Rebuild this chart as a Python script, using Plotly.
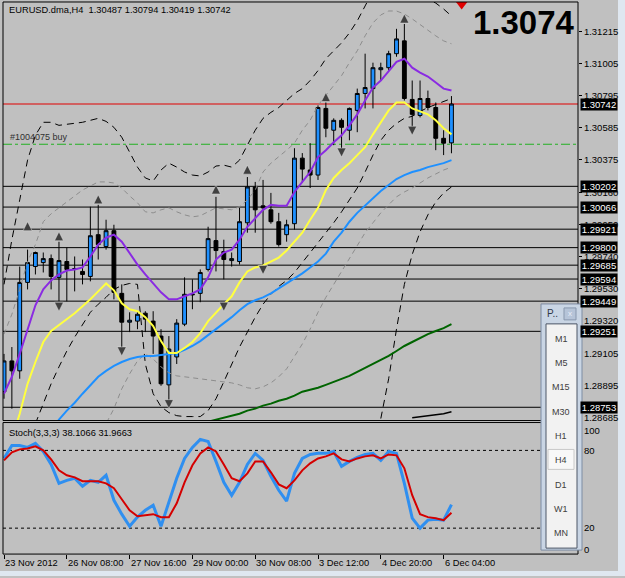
import plotly.graph_objects as go

W, H = 625, 578
def px(x): return x / W
def py(y): return 1 - y / H

# ---------------- data ----------------
bar_idx = list(range(58))
opens = [1.28855,1.29057,1.28992,1.29572,1.29676,1.29702,1.29728,1.29605,1.29709,1.29657,
         1.29644,1.29611,1.29885,1.29807,1.29911,1.29500,1.29311,1.29318,1.29370,1.29318,
         1.29220,1.28900,1.29083,1.29298,1.29490,1.29500,1.29657,1.29846,1.29774,1.29715,
         1.29709,1.29963,1.30198,1.30074,1.30048,1.29970,1.29885,1.29957,1.30387,1.30309,
         1.30276,1.30713,1.30570,1.30635,1.30570,1.30700,1.30811,1.30843,1.30967,1.30980,
         1.31072,1.31156,1.30772,1.30667,1.30778,1.30719,1.30517,1.30487]
highs = [1.29103,1.29148,1.29676,1.29787,1.29774,1.29768,1.29755,1.29839,1.29800,1.29742,
         1.29722,1.30068,1.30081,1.29983,1.29950,1.29559,1.29376,1.29383,1.29383,1.29383,
         1.29265,1.29220,1.29331,1.29605,1.29592,1.29657,1.29937,1.30133,1.29852,1.29768,
         1.30061,1.30263,1.30231,1.30244,1.30159,1.30028,1.29983,1.30452,1.30420,1.30485,
         1.30733,1.30752,1.30648,1.30648,1.30719,1.30843,1.31072,1.31013,1.31013,1.31091,
         1.31235,1.31267,1.30896,1.30896,1.30830,1.30752,1.30570,1.30794]
lows = [1.28809,1.28744,1.28940,1.29526,1.29624,1.29637,1.29526,1.29448,1.29448,1.29513,
        1.29559,1.29579,1.29722,1.29787,1.29461,1.29135,1.29246,1.29265,1.29246,1.29103,
        1.28894,1.28790,1.29037,1.29285,1.29396,1.29442,1.29644,1.29644,1.29592,1.29676,
        1.29689,1.29898,1.29898,1.29676,1.29957,1.29807,1.29839,1.29918,1.30224,1.30191,
        1.30244,1.30524,1.30472,1.30426,1.30504,1.30557,1.30713,1.30713,1.30896,1.30961,
        1.31052,1.30765,1.30583,1.30654,1.30700,1.30439,1.30407,1.30419]
closes = [1.29057,1.28992,1.29572,1.29702,1.29768,1.29728,1.29611,1.29715,1.29657,1.29663,
          1.29624,1.29878,1.29820,1.29911,1.29507,1.29311,1.29324,1.29363,1.29331,1.29220,
          1.28907,1.29135,1.29305,1.29494,1.29494,1.29637,1.29859,1.29781,1.29722,1.29728,
          1.29970,1.30198,1.30048,1.30061,1.29970,1.29820,1.29950,1.30387,1.30315,1.30276,
          1.30719,1.30583,1.30635,1.30589,1.30713,1.30811,1.30850,1.30980,1.30980,1.31072,
          1.31169,1.30778,1.30674,1.30778,1.30719,1.30517,1.30485,1.30742]

ma_purple = [1.28842,1.28953,1.29103,1.29266,1.29422,1.29526,1.29585,1.29624,1.29650,1.29657,
             1.29670,1.29742,1.29820,1.29865,1.29885,1.29839,1.29761,1.29689,1.29624,1.29565,
             1.29507,1.29461,1.29461,1.29481,1.29500,1.29526,1.29605,1.29722,1.29768,1.29787,
             1.29852,1.29937,1.29996,1.30048,1.30081,1.30074,1.30074,1.30165,1.30231,1.30296,
             1.30394,1.30439,1.30491,1.30537,1.30602,1.30674,1.30765,1.30850,1.30896,1.30961,
             1.31019,1.31039,1.30980,1.30948,1.30922,1.30883,1.30843,1.30830]
ma_yellow = [1.28353,1.28548,1.28711,1.28907,1.29050,1.29181,1.29253,1.29292,1.29331,1.29370,
             1.29416,1.29461,1.29513,1.29565,1.29520,1.29435,1.29396,1.29383,1.29344,1.29285,
             1.29187,1.29109,1.29109,1.29142,1.29181,1.29239,1.29318,1.29376,1.29429,1.29481,
             1.29572,1.29644,1.29670,1.29683,1.29709,1.29735,1.29781,1.29839,1.29898,1.29983,
             1.30061,1.30178,1.30257,1.30309,1.30354,1.30407,1.30459,1.30543,1.30622,1.30700,
             1.30752,1.30752,1.30713,1.30693,1.30674,1.30635,1.30583,1.30543]
ma_blue = [None,None,None,None,None,None,1.28600,1.28672,1.28731,1.28783,
           1.28842,1.28894,1.28953,1.28992,1.29024,1.29050,1.29070,1.29083,1.29090,1.29090,
           1.29096,1.29103,1.29109,1.29129,1.29155,1.29187,1.29226,1.29266,1.29305,1.29344,
           1.29389,1.29429,1.29455,1.29474,1.29500,1.29533,1.29565,1.29598,1.29631,1.29670,
           1.29709,1.29761,1.29839,1.29898,1.29970,1.30028,1.30074,1.30120,1.30172,1.30211,
           1.30250,1.30276,1.30296,1.30309,1.30328,1.30341,1.30354,1.30374]
ma_green = [None]*26 + [1.28659,1.28672,1.28685,1.28698,
            1.28711,1.28731,1.28744,1.28764,1.28777,1.28796,1.28809,1.28829,1.28855,1.28868,
            1.28881,1.28900,1.28920,1.28940,1.28959,1.28985,1.29011,1.29037,1.29063,1.29090,
            1.29122,1.29155,1.29181,1.29207,1.29233,1.29253,1.29272,1.29298]
ma_black = [None]*52 + [1.28685,1.28692,1.28698,1.28705,1.28711,1.28724]

band_upper_outer = [1.29559,1.29852,1.30113,1.30374,1.30537,1.30622,1.30622,1.30602,1.30609,1.30615,
                    1.30622,1.30635,1.30648,1.30628,1.30589,1.30524,1.30426,1.30328,1.30257,1.30237,
                    1.30309,1.30354,1.30328,1.30296,1.30276,1.30270,1.30296,1.30335,1.30341,1.30328,
                    1.30374,1.30472,1.30570,1.30648,1.30687,1.30719,1.30765,1.30811,1.30843,1.30896,
                    1.30961,1.31039,1.31091,1.31143,1.31208,1.31287,1.31385,1.31482,1.31548,1.31580,
                    1.31580,1.31548,1.31495,1.31456,1.31430,1.31404,1.31365,1.31319]
band_upper_inner = [1.29233,1.29363,1.29526,1.29709,1.29820,1.29970,1.30022,1.30061,1.30094,1.30139,
                    1.30178,1.30204,1.30231,1.30231,1.30224,1.30191,1.30139,1.30094,1.30035,1.30028,
                    1.30048,1.30061,1.30035,1.30015,1.30002,1.30009,1.30035,1.30061,1.30054,1.30048,
                    1.30068,1.30113,1.30178,1.30296,1.30354,1.30394,1.30439,1.30485,1.30570,1.30635,
                    1.30733,1.30798,1.30863,1.30928,1.31013,1.31091,1.31189,1.31274,1.31326,1.31352,
                    1.31352,1.31332,1.31300,1.31261,1.31222,1.31189,1.31156,1.31137]
band_lower_inner = [None]*12 + [1.28548,1.28646,1.28744,1.28874,1.28972,1.29057,1.29103,1.29070,
                    1.29018,1.28979,1.28959,1.28953,1.28946,1.28940,1.28933,1.28927,1.28920,1.28913,
                    1.28900,1.28881,1.28874,1.28887,1.28913,1.28953,1.29005,1.29083,1.29168,1.29266,
                    1.29376,1.29474,1.29559,1.29644,1.29735,1.29820,1.29898,1.29963,1.30028,1.30081,
                    1.30133,1.30165,1.30191,1.30224,1.30257,1.30283,1.30309,1.30328]
band_lower_outer = [None,None,None,None,1.28646,1.28777,1.28907,1.29018,1.29122,1.29213,
                    1.29298,1.29376,1.29429,1.29474,1.29526,1.29552,1.29565,1.29559,1.29037,1.28842,
                    1.28757,1.28718,1.28698,1.28692,1.28692,1.28692,1.28731,1.28809,1.28920,1.29037,
                    1.29148,1.29246,1.29344,1.29429,1.29494,1.29546,1.29585,1.29637,1.29702,1.29774,
                    1.29839,1.29898,1.29963,1.30035,1.30113,1.30191,1.30296,1.30407,1.30504,1.30570,
                    1.30615,1.30648,1.30661,1.30693,1.30719,1.30739,1.30759,1.30778]
band_lower_far = [None]*48 + [1.28679,1.28940,1.29266,1.29559,1.29755,1.29904,1.30015,1.30100,
                  1.30159,1.30198]

fractal_up_idx = [3, 7, 12, 27, 31, 41, 51]
fractal_up_price = [1.29970, 1.29904, 1.30146, 1.30211, 1.30341, 1.30817, 1.31332]
fractal_dn_idx = [7, 15, 21, 28, 33, 43, 52]
fractal_dn_price = [1.29383, 1.29090, 1.28744, 1.29383, 1.29624, 1.30394, 1.30537]

stoch_k = [73.8,83.8,83.8,82.3,85.4,79.2,69.2,54.6,56.9,58.5,
           52.3,56.9,55.4,60.8,41.5,30.8,21.5,28.5,33.8,37.7,
           21.5,39.2,58.5,73.8,82.3,88.5,86.9,71.5,55.4,45.4,
           55.4,69.2,77.7,72.3,60.0,49.2,40.8,62.3,73.8,76.9,
           77.7,77.7,79.2,67.7,71.5,74.6,76.9,77.7,72.3,79.2,
           77.7,54.6,27.7,20.0,26.2,26.9,26.2,38.1066]
stoch_d = [72.3,78.5,80.8,81.5,83.1,80.0,73.1,64.6,60.8,59.2,
           56.2,56.2,56.2,54.6,50.8,42.3,33.8,29.2,30.0,30.8,
           28.5,28.5,39.2,55.4,68.5,77.7,82.3,79.2,69.2,58.5,
           56.2,62.3,71.5,71.5,63.1,53.8,50.8,56.9,64.6,70.0,
           73.8,75.4,77.7,73.1,71.5,73.8,75.4,76.2,73.8,76.9,
           76.2,66.2,45.4,30.8,28.5,27.7,26.2,31.9663]
stoch_levels = [20, 80]

price_ticks = [1.31215,1.31005,1.30795,1.30585,1.30375,1.30160,1.29950,1.29740,
               1.29530,1.29320,1.29105,1.28895,1.28685]
level_lines = [1.30202,1.30066,1.29921,1.29800,1.29685,1.29594,1.29449,1.29251,1.28753]
bid_price = 1.30742
order_price = 1.30478
order_label = "#1004075 buy"
time_tick_idx = [0, 8, 16, 24, 32, 40, 48, 56]
time_labels = ["23 Nov 2012","26 Nov 08:00","27 Nov 16:00","29 Nov 00:00",
               "30 Nov 08:00","3 Dec 12:00","4 Dec 20:00","6 Dec 04:00"]
sell_mark_idx = [58.3]
sell_mark_price = [1.31395]
periods = ["M1","M5","M15","M30","H1","H4","D1","W1","MN"]

FONT = "Liberation Sans"
BG = "#c0c0c0"

fig = go.Figure()

def band(vals, color, dash):
    fig.add_trace(go.Scatter(x=bar_idx, y=vals, mode="lines", xaxis="x", yaxis="y",
                             line=dict(color=color, width=1, dash=dash),
                             hoverinfo="skip", showlegend=False, connectgaps=False))

band(band_upper_outer, "black", "7px,5px")
band(band_lower_outer, "black", "7px,5px")
band(band_lower_far, "black", "7px,5px")
band(band_upper_inner, "#8c8c8c", "5px,4px")
band(band_lower_inner, "#8c8c8c", "5px,4px")

fig.add_trace(go.Candlestick(
    x=bar_idx, open=opens, high=highs, low=lows, close=closes, xaxis="x", yaxis="y",
    increasing=dict(line=dict(color="black", width=1), fillcolor="#1e90ff"),
    decreasing=dict(line=dict(color="black", width=1), fillcolor="black"),
    whiskerwidth=0, showlegend=False, hoverinfo="skip"))

for vals, col, wd in [(ma_green, "#006400", 2), (ma_black, "black", 1.5), (ma_blue, "#1e90ff", 2),
                      (ma_yellow, "#ffff40", 2), (ma_purple, "#8a2be2", 2)]:
    fig.add_trace(go.Scatter(x=bar_idx, y=vals, mode="lines", xaxis="x", yaxis="y",
                             line=dict(color=col, width=wd), hoverinfo="skip",
                             showlegend=False, connectgaps=False))

fig.add_trace(go.Scatter(x=fractal_up_idx, y=fractal_up_price, mode="markers", xaxis="x", yaxis="y",
                         marker=dict(symbol="arrow-up", size=9, color="#404040",
                                     line=dict(color="#e0e0e0", width=0.5)),
                         hoverinfo="skip", showlegend=False))
fig.add_trace(go.Scatter(x=fractal_dn_idx, y=fractal_dn_price, mode="markers", xaxis="x", yaxis="y",
                         marker=dict(symbol="arrow-down", size=9, color="#404040",
                                     line=dict(color="#e0e0e0", width=0.5)),
                         hoverinfo="skip", showlegend=False))
fig.add_trace(go.Scatter(x=sell_mark_idx, y=sell_mark_price, mode="markers", xaxis="x", yaxis="y",
                         marker=dict(symbol="triangle-down", size=10, color="#e00000"),
                         hoverinfo="skip", showlegend=False))

# stochastic
fig.add_trace(go.Scatter(x=bar_idx, y=stoch_k, mode="lines", xaxis="x2", yaxis="y2",
                         line=dict(color="#2f8ff0", width=3), hoverinfo="skip", showlegend=False))
fig.add_trace(go.Scatter(x=bar_idx, y=stoch_d, mode="lines", xaxis="x2", yaxis="y2",
                         line=dict(color="#d40000", width=2), hoverinfo="skip", showlegend=False))

shapes = []
X0, X1 = px(3), px(578)
shapes.append(dict(type="rect", xref="paper", yref="paper", x0=px(618), x1=1, y0=0, y1=1,
                   fillcolor="#dfe7f0", line=dict(width=0), layer="below"))
shapes.append(dict(type="rect", xref="paper", yref="paper", x0=0, x1=1, y0=0, y1=py(573),
                   fillcolor="#dfe7f0", line=dict(width=0), layer="below"))
for lv in level_lines:
    shapes.append(dict(type="line", xref="paper", yref="y", x0=X0, x1=X1, y0=lv, y1=lv,
                       line=dict(color="black", width=1), layer="below"))
shapes.append(dict(type="line", xref="paper", yref="y", x0=X0, x1=X1, y0=bid_price, y1=bid_price,
                   line=dict(color="#e00000", width=1), layer="below"))
shapes.append(dict(type="line", xref="paper", yref="y", x0=X0, x1=X1, y0=order_price, y1=order_price,
                   line=dict(color="#22b022", width=1, dash="dashdot"), layer="below"))
for lv in stoch_levels:
    shapes.append(dict(type="line", xref="paper", yref="y2", x0=X0, x1=X1, y0=lv, y1=lv,
                       line=dict(color="black", width=1, dash="3px,3px"), layer="below"))
shapes.append(dict(type="rect", xref="paper", yref="paper", x0=X0, x1=X1, y0=py(422), y1=py(2),
                   line=dict(color="black", width=1), layer="above"))
shapes.append(dict(type="rect", xref="paper", yref="paper", x0=X0, x1=X1, y0=py(556), y1=py(424),
                   line=dict(color="black", width=1), layer="above"))
# period panel
shapes.append(dict(type="rect", xref="paper", yref="paper", x0=px(541), x1=px(582), y0=py(552), y1=py(305),
                   fillcolor="#c9d5e4", line=dict(color="#7d8ca3", width=1), layer="above"))
shapes.append(dict(type="rect", xref="paper", yref="paper", x0=px(564), x1=px(576), y0=py(321), y1=py(309),
                   fillcolor="#b6c4d8", line=dict(color="#8897ad", width=1), layer="above"))
shapes.append(dict(type="rect", xref="paper", yref="paper", x0=px(546), x1=px(577), y0=py(550), y1=py(325),
                   fillcolor="#f2f2f2", line=dict(color="#4c5666", width=1), layer="above"))
shapes.append(dict(type="rect", xref="paper", yref="paper", x0=px(548), x1=px(574), y0=py(471), y1=py(451),
                   fillcolor="#f8f8f8", line=dict(color="#c8c8c8", width=1), layer="above"))

ann = []
ann.append(dict(text="EURUSD.dma,H4  1.30487 1.30794 1.30419 1.30742", xref="paper", yref="paper",
                x=px(7), y=py(10), xanchor="left", yanchor="middle", showarrow=False,
                font=dict(family=FONT, size=9.3, color="black")))
ann.append(dict(text="<b>1.3074</b>", xref="paper", yref="paper", x=px(577), y=py(23), xanchor="right",
                yanchor="middle", showarrow=False, font=dict(family=FONT, size=33, color="black")))
ann.append(dict(text=order_label, xref="paper", yref="y", x=px(8), y=order_price, xanchor="left",
                yanchor="bottom", showarrow=False, font=dict(family=FONT, size=9, color="#303030")))
ann.append(dict(text="Stoch(3,3,3) 38.1066 31.9663", xref="paper", yref="paper", x=px(7), y=py(435),
                xanchor="left", yanchor="middle", showarrow=False, font=dict(family=FONT, size=9.3, color="black")))
for lv in level_lines + [bid_price]:
    ann.append(dict(text=f"{lv:.5f}", xref="paper", yref="y", x=px(580), y=lv, xanchor="left",
                    yanchor="middle", showarrow=False, bgcolor="black", borderpad=0,
                    width=36, height=11, font=dict(family=FONT, size=9.5, color="white")))
for lbl, yy in [("100", 432), ("0", 551)]:
    ann.append(dict(text=lbl, xref="paper", yref="paper", x=px(582), y=py(yy), xanchor="left",
                    yanchor="middle", showarrow=False, font=dict(family=FONT, size=9.5, color="black")))
for i, lbl in zip(time_tick_idx, time_labels):
    ann.append(dict(text=lbl, xref="x2", yref="paper", x=i, y=py(565), xanchor="left", xshift=-1,
                    yanchor="middle", showarrow=False, font=dict(family=FONT, size=9.3, color="black")))
ann.append(dict(text="P..", xref="paper", yref="paper", x=px(545), y=py(315), xanchor="left",
                yanchor="middle", showarrow=False, font=dict(family=FONT, size=10, color="#303848")))
ann.append(dict(text="x", xref="paper", yref="paper", x=px(570), y=py(315), xanchor="center",
                yanchor="middle", showarrow=False, font=dict(family=FONT, size=8, color="#e8eef8")))
for k, p in enumerate(periods):
    ann.append(dict(text=p, xref="paper", yref="paper", x=px(561), y=py(340 + k * 24.4),
                    xanchor="center", yanchor="middle", showarrow=False,
                    font=dict(family=FONT, size=9, color="#404040")))

fig.update_layout(
    width=W, height=H, margin=dict(l=0, r=0, t=0, b=0),
    paper_bgcolor=BG, plot_bgcolor=BG, showlegend=False,
    boxgap=0.3,
    xaxis=dict(domain=[X0, X1], range=[-0.13, 73.12], anchor="y", showticklabels=False,
               showgrid=False, zeroline=False, ticks="", rangeslider=dict(visible=False)),
    yaxis=dict(domain=[py(422), py(2)], range=[1.28666, 1.31411], side="right", anchor="x",
               tickvals=price_ticks, ticktext=[f"{v:.5f}" for v in price_ticks],
               ticks="outside", ticklen=3, tickcolor="black", showgrid=False, zeroline=False,
               tickfont=dict(family=FONT, size=9.5, color="black")),
    xaxis2=dict(domain=[X0, X1], range=[-0.13, 73.12], anchor="y2", matches="x",
                showticklabels=False, showgrid=False, zeroline=False, tickvals=time_tick_idx,
                ticks="outside", ticklen=4, tickcolor="black"),
    yaxis2=dict(domain=[py(556), py(424)], range=[0, 101.5], side="right", anchor="x2",
                tickvals=stoch_levels, ticktext=[str(v) for v in stoch_levels],
                ticks="outside", ticklen=3, tickcolor="black", showgrid=False, zeroline=False,
                tickfont=dict(family=FONT, size=9.5, color="black")),
    shapes=shapes, annotations=ann,
)

fig.write_html("out.html")
